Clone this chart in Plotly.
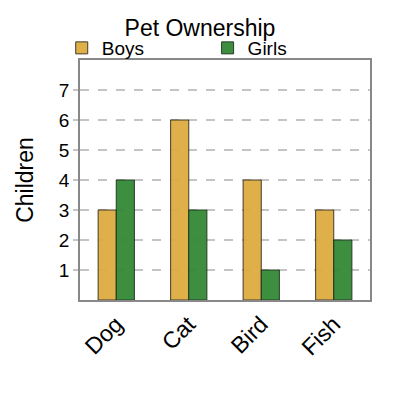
import plotly.graph_objects as go

categories = ["Dog", "Cat", "Bird", "Fish"]
boys = [3, 6, 4, 3]
girls = [4, 3, 1, 2]

fig = go.Figure()
fig.add_trace(go.Bar(x=categories, y=boys, name="Boys", legend="legend",
                     marker=dict(color="#DEAC40", line=dict(color="#3a3020", width=1)),
                     opacity=0.95))
fig.add_trace(go.Bar(x=categories, y=girls, name="Girls", legend="legend2",
                     marker=dict(color="#338A35", line=dict(color="#1d321d", width=1)),
                     opacity=0.95))

leg_common = dict(xanchor="left", y=1.05, yanchor="middle", font=dict(size=19),
                  itemwidth=30, bgcolor="rgba(0,0,0,0)")

fig.update_layout(
    width=400, height=400,
    paper_bgcolor="white", plot_bgcolor="white",
    font=dict(family="Liberation Sans, Arial, sans-serif", color="black"),
    title=dict(text="Pet Ownership", x=0.48, xanchor="center", y=0.95, yanchor="middle",
               font=dict(size=23)),
    barmode="group", bargap=0.5, bargroupgap=0,
    margin=dict(l=72, r=38, t=52, b=108),
    showlegend=True,
    legend=dict(x=-0.063, **leg_common),
    legend2=dict(x=0.44, **leg_common),
    xaxis=dict(tickangle=-45, tickfont=dict(size=23), showline=True, linecolor="#888",
               mirror=True, linewidth=1.5, ticks="", automargin=False),
    yaxis=dict(range=[0, 8], tickvals=[1, 2, 3, 4, 5, 6, 7], tickfont=dict(size=19),
               showgrid=True, gridcolor="#c4c4c4", griddash="dash", gridwidth=1.5,
               showline=True, linecolor="#888", mirror=True, linewidth=1.5,
               zeroline=False, ticks="outside", ticklen=5, tickcolor="#c4c4c4",
               tickwidth=1.5, automargin=False,
               title=dict(text="Children", font=dict(size=23), standoff=19)),
)

fig.write_html("out.html")
